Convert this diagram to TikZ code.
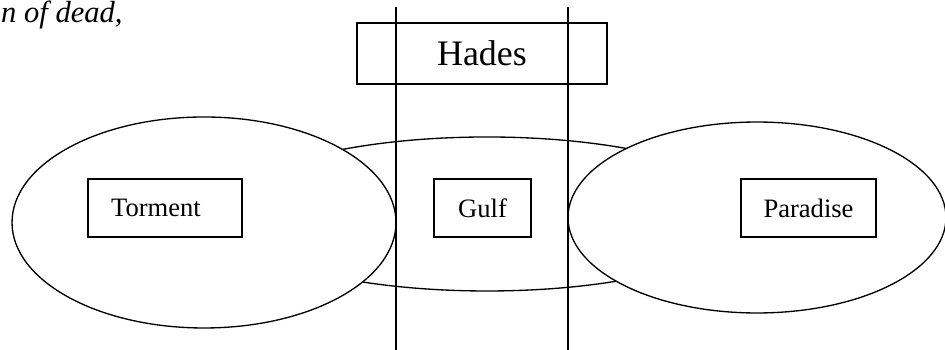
\documentclass[tikz,border=0pt]{standalone}
\usepackage{fontspec}
\setmainfont{Liberation Serif}
\tikzset{
	placebox/.style={draw, line width=1.1pt, inner sep=0pt, minimum height=1.534cm, font=\fontsize{20}{24}\selectfont},
	gulfline/.style={line width=1.5pt}
}
\begin{document}
\begin{tikzpicture}
	\useasboundingbox (0,0) rectangle (25,9.259);
	% the three regions
	\draw[line width=1pt] (12.884,3.598) ellipse (7.01 and 2.037);
	\draw[line width=1pt, fill=white] (5.397,3.373) ellipse (5.079 and 2.791);
	\draw[line width=1pt, fill=white] (20.026,3.505) ellipse (5.0 and 2.526);
	\node[placebox, minimum width=4.074cm] (torment) at (4.365,3.757) {Torment\kern0.48cm};
	\node[placebox, minimum width=2.566cm] (gulf) at (12.765,3.757) {Gulf};
	\node[placebox, minimum width=3.571cm] (paradise) at (21.389,3.757) {Paradise};
	\node[placebox, minimum width=6.614cm, minimum height=1.614cm, font=\fontsize{27}{31}\selectfont] (hades) at (12.751,7.844) {Hades};
	% the gulf
	\draw[gulfline] (10.476,9.074) -- (10.476,0);
	\draw[gulfline] (15.026,9.074) -- (15.026,0);
	\node[anchor=base east, inner sep=0pt, font=\fontsize{23}{27}\selectfont\itshape] (realm) at (3.25,8.667) {n of dead,};
\end{tikzpicture}
\end{document}
